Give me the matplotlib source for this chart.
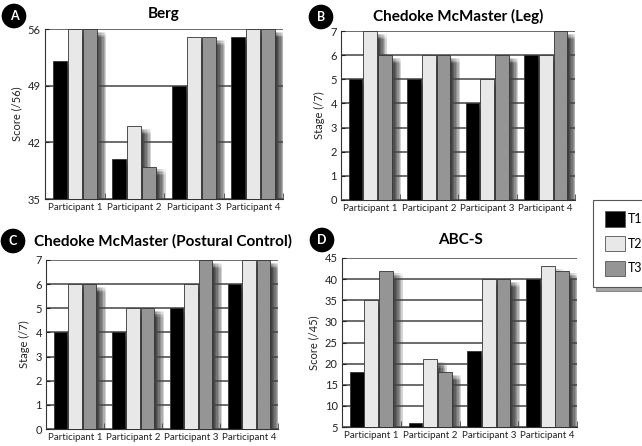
import matplotlib
matplotlib.use("Agg")
import matplotlib.pyplot as plt
import matplotlib.patheffects as pe
from matplotlib.patches import Patch
import numpy as np

plt.rcParams['font.family'] = ['Lato', 'DejaVu Sans']

# datos
participants = ['Participant 1', 'Participant 2', 'Participant 3', 'Participant 4']
times = ['T1', 'T2', 'T3']
colors = ['#000000', '#e8e8e8', '#959595']

berg_t1 = [52, 40, 49, 55]
berg_t2 = [56, 44, 55, 56]
berg_t3 = [56, 39, 55, 56]

leg_t1 = [5, 5, 4, 6]
leg_t2 = [7, 6, 5, 6]
leg_t3 = [6, 6, 6, 7]

post_t1 = [4, 4, 5, 6]
post_t2 = [6, 5, 6, 7]
post_t3 = [6, 5, 7, 7]

abc_t1 = [18, 6, 23, 40]
abc_t2 = [35, 21, 40, 43]
abc_t3 = [42, 18, 40, 42]

W, H = 642, 446
fig = plt.figure(figsize=(W / 100, H / 100), dpi=100)


def px_axes(l, r, t, b):
    return fig.add_axes([l / W, 1 - b / H, (r - l) / W, (b - t) / H])


# sombra difusa hacia la derecha (varias copias desplazadas)
shadow_fx = [pe.SimplePatchShadow(offset=(dx, -dy), shadow_rgbFace='k', alpha=0.034)
             for dx in np.arange(1.0, 8.0, 1.0) for dy in np.arange(2.0, 7.0, 1.0)]


def panel(ax, series, ylim, yticks, ylabel, title, letter, title_xy, letter_xy):
    x = np.arange(len(participants))
    w = 0.235
    base = ylim[0]
    for i, vals in enumerate(series):
        vals = np.array(vals, dtype=float)
        # sombras primero
        ax.bar(x + (i - 1) * 0.25, vals - base, w, bottom=base, facecolor='none',
               edgecolor='none', linewidth=0, zorder=1, path_effects=shadow_fx)
        ax.bar(x + (i - 1) * 0.25, vals - base, w, bottom=base, color=colors[i],
               edgecolor='#333333', linewidth=0.6, zorder=3)
    ax.set_xlim(-0.5, 3.5)
    ax.set_ylim(*ylim)
    ax.set_yticks(yticks)
    ax.set_xticks(x)
    ax.set_xticklabels(participants, fontsize=7)
    ax.set_xticks([0.5, 1.5, 2.5, 3.5], minor=True)
    ax.tick_params(axis='x', which='major', length=0, pad=3, colors='#222222')
    ax.tick_params(axis='x', which='minor', direction='in', length=4, color='#444444')
    ax.tick_params(axis='y', labelsize=8, length=3, direction='in', pad=3, colors='#222222')
    ax.set_axisbelow(False)
    ax.grid(axis='y', color='#444444', linewidth=1.1)
    ax.spines['top'].set_visible(False)
    ax.spines['right'].set_visible(False)
    ax.spines['left'].set_color('#333333')
    ax.spines['bottom'].set_color('#333333')
    ax.set_ylabel(ylabel, fontsize=8, color='#222222', labelpad=4)
    fig.text(title_xy[0] / W, 1 - title_xy[1] / H, title, ha='center', va='center',
             fontsize=11, fontweight='bold')
    fig.text(letter_xy[0] / W, 1 - letter_xy[1] / H, letter, ha='center', va='center',
             color='white', fontsize=9, fontweight='bold',
             bbox=dict(boxstyle='circle,pad=0.45', fc='black', ec='black'))


axA = px_axes(45, 283, 29, 199)
panel(axA, [berg_t1, berg_t2, berg_t3], (35, 56), [35, 42, 49, 56], 'Score (/56)',
      'Berg', 'A', (164, 14), (14, 16))

axB = px_axes(341, 575, 31, 200)
panel(axB, [leg_t1, leg_t2, leg_t3], (0, 7), range(0, 8), 'Stage (/7)',
      'Chedoke McMaster (Leg)', 'B', (458, 16), (321, 17))

axC = px_axes(46, 278, 260, 429)
panel(axC, [post_t1, post_t2, post_t3], (0, 7), range(0, 8), 'Stage (/7)',
      'Chedoke McMaster (Postural Control)', 'C', (163, 241), (13, 241))

axD = px_axes(342, 577, 258, 427)
panel(axD, [abc_t1, abc_t2, abc_t3], (5, 45), range(5, 50, 5), 'Score (/45)',
      'ABC-S', 'D', (460, 240), (322, 240))

handles = [Patch(facecolor=c, edgecolor='#555555', linewidth=0.6) for c in colors]
leg = fig.legend(handles, times, loc='upper left', bbox_to_anchor=(587 / W, 1 - 194 / H),
                 fontsize=9, handlelength=1.6, handleheight=1.5, labelspacing=0.75,
                 handletextpad=0.3, borderpad=0.9, fancybox=False, edgecolor='#555555',
                 framealpha=1, shadow={'color': 'k', 'alpha': 0.35, 'ox': 2, 'oy': -3})
leg.get_frame().set_linewidth(0.8)

fig.savefig('out.png', dpi=100)
